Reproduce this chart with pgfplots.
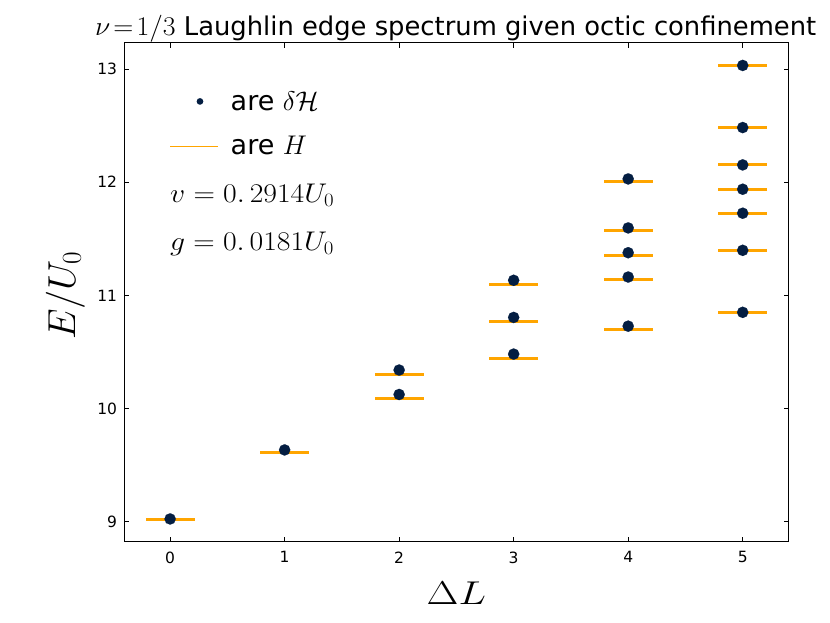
\RequirePackage{fix-cm}
\documentclass[border=0pt]{standalone}
\usepackage[no-math]{fontspec}
\setmainfont{DejaVu Sans}
\usepackage{pgfplots}
\pgfplotsset{compat=1.18}
\usepackage{pgfplotstable}
\usepackage{graphicx}
\definecolor{navy}{RGB}{4,30,66}
\definecolor{myorange}{RGB}{255,165,0}

\pgfplotstableread{
x y
0 9.024
1 9.634
2 10.340
2 10.124
3 11.133
3 10.805
3 10.481
4 12.029
4 11.596
4 11.377
4 11.162
4 10.728
5 13.032
5 12.483
5 12.153
5 11.938
5 11.726
5 11.398
5 10.850
}\dotdata

\pgfplotstableread{
x y
0 9.022
1 9.610
2 10.304
2 10.086
3 11.097
3 10.770
3 10.445
4 12.009
4 11.575
4 11.354
4 11.138
4 10.701
5 13.032
5 12.483
5 12.156
5 11.938
5 11.726
5 11.398
5 10.850
}\linedata

\begin{document}
\begin{tikzpicture}[x=1pt,y=1pt]
\path[use as bounding box] (0,0) rectangle (830,623);
\begin{axis}[
  at={(124.3pt,81.3pt)}, anchor=south west,
  width=664.2pt, height=499pt, scale only axis,
  xmin=-0.4, xmax=5.4, ymin=8.823, ymax=13.233,
  xtick={0,1,2,3,4,5}, ytick={9,10,11,12,13},
  tick align=inside, tick pos=both, major tick length=5pt,
  axis line style={line width=1pt, black},
  tick style={line width=0.8pt, black},
  /pgf/number format/assume math mode=true,
  ticklabel style={font=\fontsize{15.5}{18}\selectfont, inner sep=0pt},
  xticklabel shift=9.6pt, yticklabel shift=7pt,
  xlabel={\scalebox{1.25}[1]{$\Delta L$}},
  xlabel style={at={(axis description cs:0.5,0)}, anchor=base, yshift=-62.6pt, font=\fontsize{33}{36}\selectfont, inner sep=0pt},
  ylabel={$E/U_0$},
  every axis y label/.style={at={(axis description cs:-0.0742,0.493)}, rotate=90, anchor=base, font=\fontsize{39}{42}\selectfont, inner sep=0pt},
  legend style={draw=none, fill=none, at={(axis description cs:0.0678,0.903)}, anchor=north west,
    font=\fontsize{27}{32}\selectfont, row sep=25pt, inner sep=0pt, nodes={inner sep=0pt}, column sep=12.3pt},
  legend cell align=left,
]
\addplot[draw=none, forget plot, error bars/.cd, x dir=both, x fixed=0.2, error mark=none,
  error bar style={draw=myorange, line width=3pt, line cap=rect}] table[x=x,y=y] {\linedata};
\addplot[only marks, forget plot, mark=*, mark size=5.65pt, navy, mark options={fill=navy, draw=navy, line width=0.1pt}] table[x=x,y=y] {\dotdata};
\addlegendimage{legend image code/.code={\path[draw=none, fill=none] (0pt,-1pt) rectangle (47.4pt,1pt); \fill[navy, draw=none] (29.7pt,0pt) circle (3.35pt);}}
\addlegendentry{are $\delta\mathcal{H}$}
\addlegendimage{legend image code/.code={\draw[myorange, line width=1.5pt] (0pt,0pt) -- (47.4pt,0pt);}}
\addlegendentry{are $H$}
\end{axis}
\node[anchor=base west, inner sep=0pt, font=\fontsize{27}{30}\selectfont] at (170,420.7) {\scalebox{1.1}[1]{$v=0.\,2914U_0$}};
\node[anchor=base west, inner sep=0pt, font=\fontsize{27}{30}\selectfont] at (170,372.3) {\scalebox{1.1}[1]{$g=0.\,0181U_0$}};
\node[anchor=base west, inner sep=0pt, font=\fontsize{25.8}{29}\selectfont] at (95,587) {{\fontsize{27}{30}\selectfont\scalebox{1.03}[1]{$\nu\mkern2mu{=}\mkern2mu1/3$}} Laughlin edge spectrum given octic confinement};
\end{tikzpicture}
\end{document}
